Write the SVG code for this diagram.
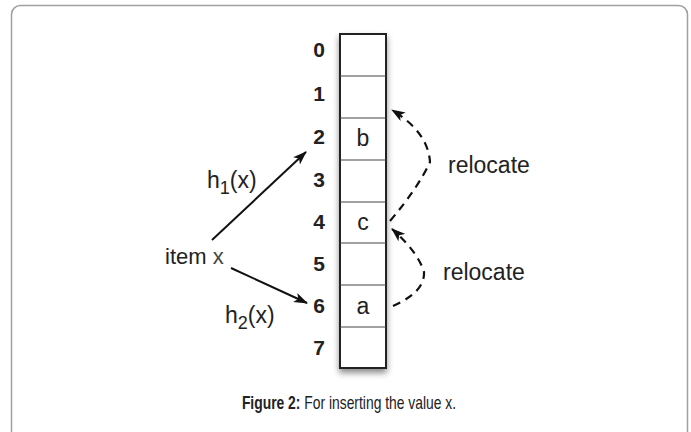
<svg xmlns="http://www.w3.org/2000/svg" width="691" height="432" viewBox="0 0 691 432">
<style>
.lbl{font-family:"Liberation Sans",Arial,sans-serif;fill:#222;}
.num{font-size:21px;font-weight:bold;text-anchor:middle;}
.ctext{font-size:23px;text-anchor:middle;}
.solid{fill:none;stroke:#111;stroke-width:2;}
.dash{fill:none;stroke:#111;stroke-width:2.2;stroke-dasharray:8,6;}
</style>
<defs>
<marker id="ah" viewBox="0 0 14 10" refX="13" refY="5" markerWidth="14" markerHeight="10" markerUnits="userSpaceOnUse" orient="auto">
<path d="M0,0 L14,5 L0,10 L3.5,5 Z" fill="#111"/>
</marker>
<filter id="sh" x="-30%" y="-10%" width="160%" height="130%">
<feDropShadow dx="0" dy="4" stdDeviation="3" flood-color="#000" flood-opacity="0.45"/>
</filter>
</defs>
<rect x="11.5" y="5.5" width="676" height="440" rx="9" fill="#fff" stroke="#a0a0a0" stroke-width="1.5"/>
<g id="array">
<rect x="340" y="34" width="46" height="334" fill="#fff" stroke="#222" stroke-width="2" filter="url(#sh)"/>
<g stroke="#444" stroke-width="1.2">
<line x1="340" y1="76" x2="386" y2="76"/>
<line x1="340" y1="118" x2="386" y2="118"/>
<line x1="340" y1="160" x2="386" y2="160"/>
<line x1="340" y1="202" x2="386" y2="202"/>
<line x1="340" y1="243" x2="386" y2="243"/>
<line x1="340" y1="285" x2="386" y2="285"/>
<line x1="340" y1="327" x2="386" y2="327"/>
</g>
<text class="lbl ctext" x="363" y="146">b</text>
<text class="lbl ctext" x="363" y="230">c</text>
<text class="lbl ctext" x="363" y="314">a</text>
</g>
<g id="indices">
<text class="lbl num" x="319" y="57">0</text>
<text class="lbl num" x="319" y="101">1</text>
<text class="lbl num" x="319" y="144">2</text>
<text class="lbl num" x="319" y="187">3</text>
<text class="lbl num" x="319" y="229">4</text>
<text class="lbl num" x="319" y="271">5</text>
<text class="lbl num" x="319" y="313">6</text>
<text class="lbl num" x="319" y="355">7</text>
</g>
<g id="item">
<text class="lbl" x="165" y="264" font-size="22">item <tspan fill="#444">x</tspan></text>
</g>
<g id="h1label">
<text class="lbl" x="207" y="188" font-size="23">h<tspan font-size="18" dy="6">1</tspan><tspan dy="-6">(x)</tspan></text>
</g>
<g id="h2label">
<text class="lbl" x="225" y="323" font-size="23">h<tspan font-size="18" dy="6">2</tspan><tspan dy="-6">(x)</tspan></text>
</g>
<g id="reloc1"><text class="lbl" x="448" y="173" font-size="23" fill="#333">relocate</text></g>
<g id="reloc2"><text class="lbl" x="443" y="280" font-size="23" fill="#333">relocate</text></g>
<g id="connectors">
<line class="solid" x1="212" y1="240" x2="306" y2="152" marker-end="url(#ah)"/>
<line class="solid" x1="231" y1="268" x2="307" y2="303" marker-end="url(#ah)"/>
<path class="dash" d="M390,221 Q418,188 430,162 Q428,132 392,110" marker-end="url(#ah)"/>
<path class="dash" d="M393,306 Q425,292 424,272 Q418,252 392,229" marker-end="url(#ah)"/>
</g>
<g id="caption">
<text class="lbl" transform="translate(349,409) scale(0.73,1)" font-size="19" text-anchor="middle"><tspan font-weight="bold">Figure 2:</tspan> For inserting the value x.</text>
</g>
</svg>
